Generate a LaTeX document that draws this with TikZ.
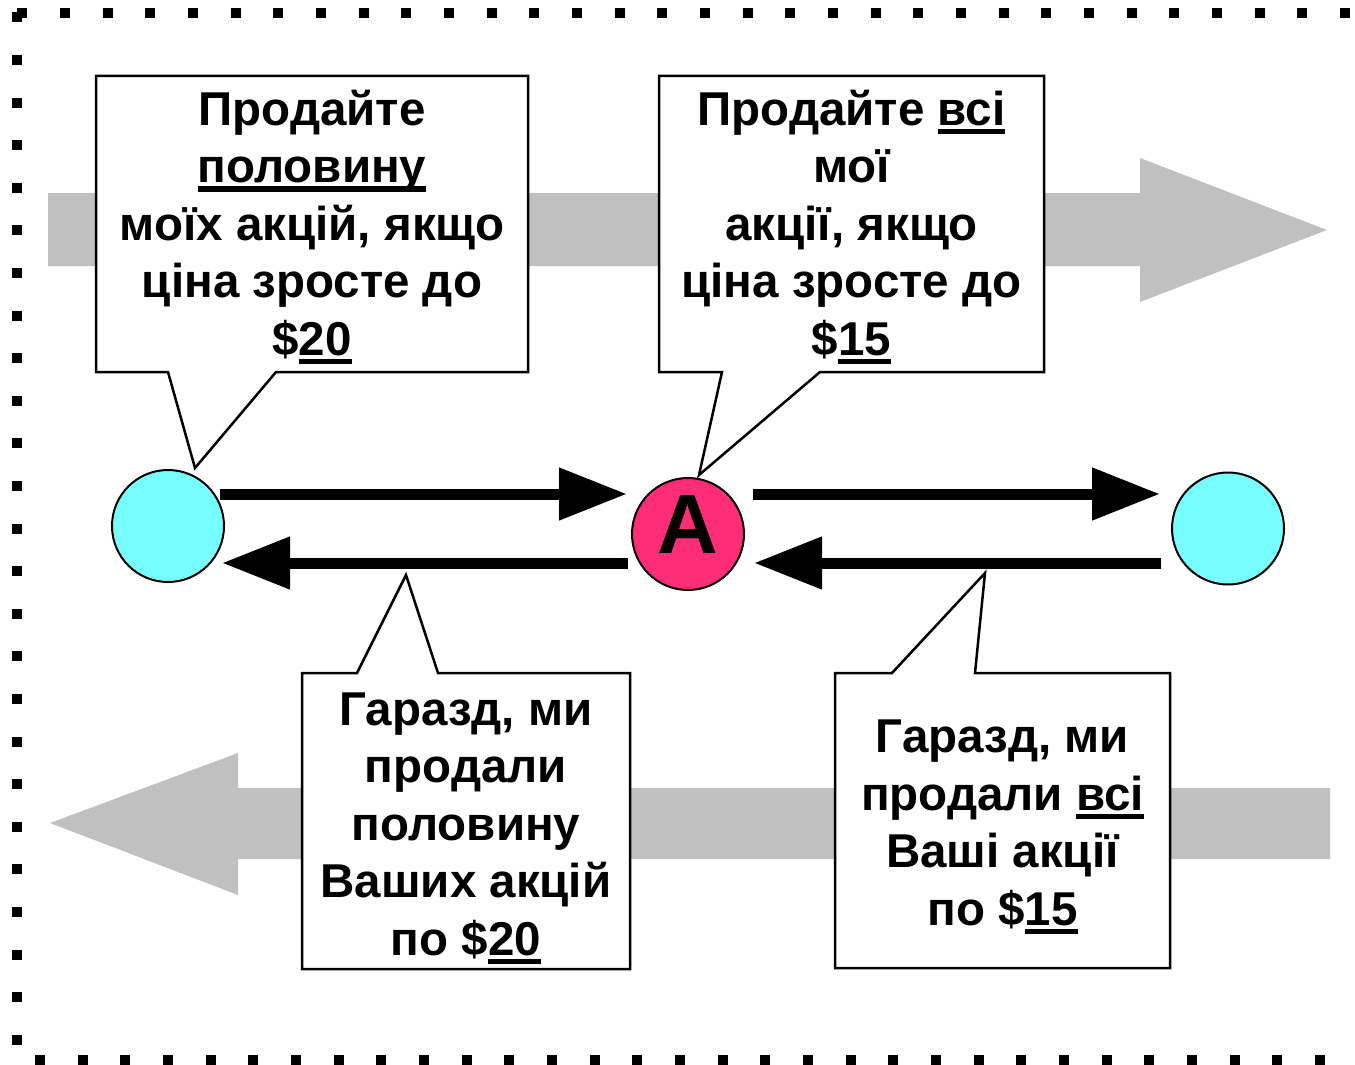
\documentclass[tikz,border=0pt]{standalone}
\usepackage{fontspec}
\setmainfont{Liberation Sans}
\usetikzlibrary{arrows.meta}
\definecolor{grayarrow}{RGB}{192,192,192}
\definecolor{cyanball}{RGB}{119,255,255}
\definecolor{redball}{RGB}{255,45,120}
\newcommand\ulx[1]{\setbox0\hbox{#1}\rlap{\vrule height -3.5pt depth 9pt width \wd0}\box0}
\begin{document}
\begin{tikzpicture}[x=1pt,y=-1pt,
  callout/.style={draw=black,line width=2.5pt,fill=white,line join=miter},
  txt/.style={font=\fontsize{47.5}{57.5}\selectfont\bfseries,align=center,anchor=base,inner sep=0pt},
  ball/.style={circle,draw=black,line width=2pt,minimum size=112pt,inner sep=0pt},
  bigarrow/.style={line width=11pt,-{Triangle[length=68pt,width=50pt]}},
  grayshape/.style={fill=grayarrow},
  dotsq/.style={fill=black}]
\useasboundingbox (0,0) rectangle (1355,1065);
% dotted frame
\foreach \k in {0,...,31} \fill[dotsq] ({22.3+42.67*\k-5},8) rectangle +(10,10);
\foreach \k in {0,...,24} \fill[dotsq] (12,{17.4+42.6*\k-5}) rectangle +(10,10);
\foreach \k in {0,...,30} \fill[dotsq] ({40+42.67*\k-5},1055) rectangle +(10,10);
% gray arrows
\fill[grayshape] (48,193) -- (1140,193) -- (1140,158) -- (1327,230) -- (1140,302) -- (1140,266) -- (48,266) -- cycle;
\fill[grayshape] (1330,788) -- (238,788) -- (238,753) -- (50,823) -- (238,895) -- (238,859) -- (1330,859) -- cycle;
% callouts
\draw[callout] (96,76) -- (528,76) -- (528,372) -- (276,372) -- (195,468) -- (168,372) -- (96,372) -- cycle;
\draw[callout] (659,76) -- (1044,76) -- (1044,372) -- (820,372) -- (699,475) -- (722,372) -- (659,372) -- cycle;
\draw[callout] (302,673) -- (357,673) -- (406,575) -- (438,673) -- (630,673) -- (630,969) -- (302,969) -- cycle;
\draw[callout] (835,673) -- (892,673) -- (985,573) -- (975,673) -- (1170,673) -- (1170,968) -- (835,968) -- cycle;
\node[txt] (t1) at (312,355) {Продайте\\\ulx{половину}\\моїх акцій, якщо\\ціна зросте до\\\$\ulx{20}};
\node[txt] (t2) at (851.5,355) {Продайте \ulx{всі}\\мої\\акції, якщо\\ціна зросте до\\\$\ulx{15}};
\node[txt] (t3) at (466,955) {Гаразд, ми\\продали\\половину\\Ваших акцій\\по \$\ulx{20}};
\node[txt] (t4) at (1002.5,925) {Гаразд, ми\\продали \ulx{всі}\\Ваші акції\\по \$\ulx{15}};
% balls
\node[ball,fill=cyanball] (L) at (168,526) {};
\node[ball,fill=redball] (A) at (688,534) {};
\node[ball,fill=cyanball] (R) at (1228,528.5) {};
\node[font=\fontsize{84}{84}\selectfont\bfseries,anchor=base,inner sep=0pt] (Alabel) at (688,553) {A};
% black arrows
\draw[bigarrow] ([shift={(52,-32)}]L.center) -- ([shift={(-61,-40)}]A.center);
\draw[bigarrow] ([shift={(-60,29)}]A.center) -- ([shift={(54,37)}]L.center);
\draw[bigarrow] ([shift={(65,-40)}]A.center) -- ([shift={(-68,-34.5)}]R.center);
\draw[bigarrow] ([shift={(-67,34.5)}]R.center) -- ([shift={(66,29)}]A.center);
\end{tikzpicture}
\end{document}
